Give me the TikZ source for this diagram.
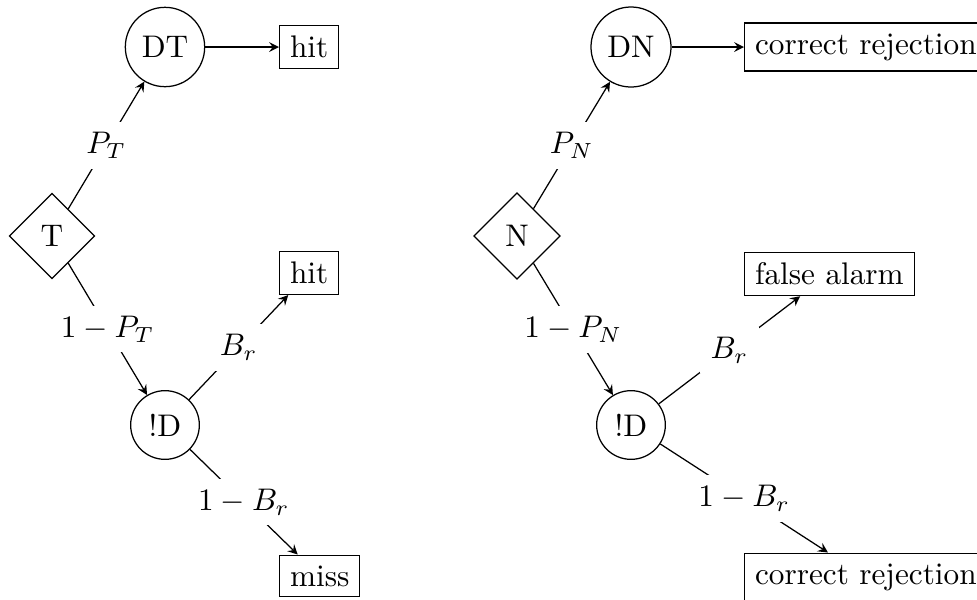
\documentclass[tikz,border=0pt]{standalone}
\usetikzlibrary{shapes.geometric}
\begin{document}
\begin{tikzpicture}[x=0.32pt,y=-0.32pt,
  chance/.style={draw,circle},
  decision/.style={draw,diamond},
  outcome/.style={draw,rectangle,anchor=west},
  lbl/.style={fill=white},
  arr/.style={-stealth}]
\useasboundingbox (0,0) rectangle (977,599);
% left tree
\node[decision] (T) at (52,236) {T};
\node[chance] (DT) at (165,47) {DT};
\node[chance] (DL) at (165,425) {!D};
\node[outcome] (hitA) at (279,47) {hit};
\node[outcome] (hitB) at (279,273) {hit};
\node[outcome] (miss) at (279,576) {miss};
\draw[arr] (T) -- node[lbl] {$P_T$} (DT);
\draw[arr] (T) -- node[lbl] {$1-P_T$} (DL);
\draw[arr] (DT) -- (hitA);
\draw[arr] (DL) -- node[lbl] {$B_r$} (hitB);
\draw[arr] (DL) -- node[lbl] {$1-B_r$} (miss);
% right tree
\node[decision] (N) at (517,236) {N};
\node[chance] (DN) at (631,47) {DN};
\node[chance] (DR) at (631,425) {!D};
\node[outcome] (crA) at (744,47) {correct rejection};
\node[outcome] (fa) at (744,274) {false alarm};
\node[outcome] (crB) at (744,577) {correct rejection};
\draw[arr] (N) -- node[lbl] {$P_N$} (DN);
\draw[arr] (N) -- node[lbl] {$1-P_N$} (DR);
\draw[arr] (DN) -- (crA);
\draw[arr] (DR) -- node[lbl] {$B_r$} (fa);
\draw[arr] (DR) -- node[lbl] {$1-B_r$} (crB);
\end{tikzpicture}
\end{document}
